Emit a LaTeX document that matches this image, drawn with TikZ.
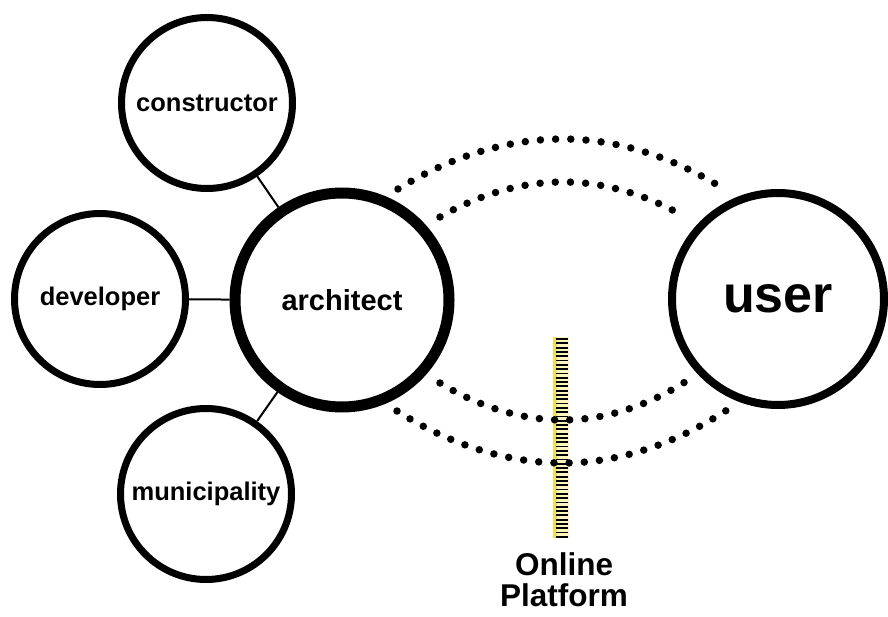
\documentclass[tikz,border=0pt]{standalone}
\usepackage{fontspec}
\setmainfont{Liberation Sans}
\definecolor{barlight}{RGB}{252,246,190}
\definecolor{baryellow}{RGB}{238,222,90}
\begin{document}
\begin{tikzpicture}[x=1pt,y=-1pt,
  actor/.style={circle,draw=black,fill=white,line width=7pt,inner sep=0pt,minimum size=171pt,font=\fontsize{25.5}{30}\selectfont\bfseries},
  bigactor/.style={actor,line width=11pt,minimum size=214pt,font=\fontsize{29}{34}\selectfont\bfseries},
  useractor/.style={actor,line width=8pt,minimum size=212pt,font=\fontsize{52}{60}\selectfont\bfseries},
  link/.style={line width=2pt},
  dotline/.style={line width=7.5pt,line cap=round,dash pattern=on 0pt off 15.2pt},
  lbl/.style={align=center,font=\fontsize{31.5}{31}\selectfont\bfseries}]
\useasboundingbox (0,0) rectangle (888,617);

% online platform bar
\fill[barlight] (553,337) rectangle (569,538);
\fill[baryellow] (553,337) rectangle (556.5,538);
\foreach \y in {339,343.3,...,537} \draw[line width=1.8pt] (556,\y) -- (568,\y);

% actors
\node[actor] (con) at (207,103) {constructor};
\node[actor] (dev) at (100,299) {developer};
\node[actor] (mun) at (206,494) {municipality};
\node[bigactor] (arch) at (342,300) {architect};
\node[useractor] (user) at (778,299) {user};

\draw[link] (con) -- (arch);
\draw[link] (dev) -- (arch);
\draw[link] (mun) -- (arch);

% dotted connections
\coordinate (ao1) at (398,189);
\coordinate (uo1) at (727,191);
\coordinate (ai1) at (440,217);
\coordinate (ui1) at (685,217);
\coordinate (ai2) at (440,383);
\coordinate (ui2) at (685,382);
\coordinate (ao2) at (397,411);
\coordinate (uo2) at (727,410);
\draw[dotline] (ao1) parabola bend (563,139) (uo1);
\draw[dotline] (ai1) parabola bend (563,182) (ui1);
\draw[dotline] (ai2) parabola bend (563,420) (ui2);
\draw[dotline] (ao2) parabola bend (563,463) (uo2);

\node[lbl] (online) at (564,580) {Online\\Platform};
\end{tikzpicture}
\end{document}
